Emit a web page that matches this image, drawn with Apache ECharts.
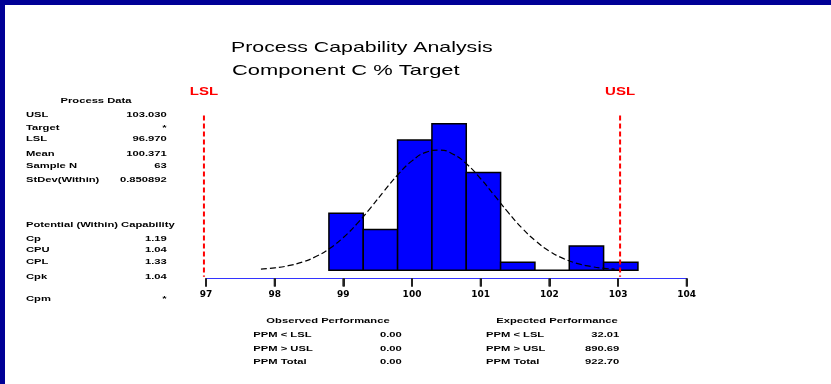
<!DOCTYPE html>
<html><head><meta charset="utf-8">
<script src="https://cdn.jsdelivr.net/npm/echarts@6/dist/echarts.min.js"></script>
<style>html,body{margin:0;padding:0;background:#fff}#c{width:831px;height:384px}</style>
</head><body><div id="c"></div>
<script>
// ---- data ----
const titleLines = ['Process Capability Analysis', 'Component C % Target'];
const axisTicks = [97, 98, 99, 100, 101, 102, 103, 104];
const binLow  = [98.79, 99.29, 99.79, 100.29, 100.79, 101.29, 101.79, 102.29, 102.79];
const binHigh = [99.29, 99.79, 100.29, 100.79, 101.29, 101.79, 102.29, 102.79, 103.29];
const binCounts = [7, 5, 16, 18, 12, 1, 0, 3, 1];
const curveX = [97.8, 98.0, 98.2, 98.4, 98.6, 98.8, 99.0, 99.2, 99.4, 99.6, 99.8, 100.0, 100.2, 100.4, 100.6, 100.8, 101.0, 101.2, 101.4, 101.6, 101.8, 102.0, 102.2, 102.4, 102.6, 102.8, 102.95];
const curveY = [0.15, 0.30, 0.57, 1.01, 1.69, 2.69, 4.03, 5.73, 7.70, 9.80, 11.79, 13.43, 14.48, 14.76, 14.25, 13.01, 11.24, 9.19, 7.11, 5.20, 3.61, 2.36, 1.47, 0.86, 0.48, 0.25, 0.15];
const specValues = [96.97, 103.03];
const specLabels = ['LSL', 'USL'];
const processDataTitle = 'Process Data';
const processDataLabels = ['USL', 'Target', 'LSL', 'Mean', 'Sample N', 'StDev(Within)'];
const processDataValues = ['103.030', '*', '96.970', '100.371', '63', '0.850892'];
const capabilityTitle = 'Potential (Within) Capability';
const capabilityLabels = ['Cp', 'CPU', 'CPL', 'Cpk', 'Cpm'];
const capabilityValues = ['1.19', '1.04', '1.33', '1.04', '*'];
const observedTitle = 'Observed Performance';
const observedLabels = ['PPM < LSL', 'PPM > USL', 'PPM Total'];
const observedValues = ['0.00', '0.00', '0.00'];
const expectedTitle = 'Expected Performance';
const expectedLabels = ['PPM < LSL', 'PPM > USL', 'PPM Total'];
const expectedValues = ['32.01', '890.69', '922.70'];

// ---- chart ----
const chart = echarts.init(document.getElementById('c'), null, {renderer: 'canvas'});
const SMALL = 'bold 8px "Liberation Sans", Arial, sans-serif';
const SX = 1.4;
const Y_MIN = -1, Y_MAX = 19;
function T(text, x, y, align, font, fill, sx) {
  return {type: 'text', x: x, y: y, scaleX: sx || SX, silent: true, z: 10,
    style: {text: text, font: font || SMALL, fill: fill || '#000',
      textAlign: align, textVerticalAlign: 'middle', align: align, verticalAlign: 'middle'}};
}

chart.setOption({
  animation: false,
  backgroundColor: '#ffffff',
  grid: {left: 206, right: 144.3, top: 115.5, bottom: 105.5},
  xAxis: {
    type: 'value', position: 'bottom',
    min: axisTicks[0], max: axisTicks[axisTicks.length - 1], interval: 1,
    splitLine: {show: false},
    axisLine: {show: true, onZero: false, lineStyle: {color: '#3333ff', width: 1}},
    axisTick: {show: true, inside: false, length: 8, lineStyle: {color: '#222', width: 2}},
    axisLabel: {show: true, margin: 12, color: '#000', fontFamily: '"DejaVu Sans", sans-serif', fontWeight: 'bold', fontSize: 9}
  },
  yAxis: {type: 'value', min: Y_MIN, max: Y_MAX, show: false, splitLine: {show: false}},
  series: [
    {
      type: 'custom',
      data: binLow.map((l, i) => [l, binHigh[i], binCounts[i]]),
      encode: {x: [0, 1], y: 2},
      renderItem: function (params, api) {
        const p0 = api.coord([api.value(0), api.value(2)]);
        const p1 = api.coord([api.value(1), 0]);
        return {type: 'rect',
          shape: {x: p0[0], y: p0[1], width: p1[0] - p0[0], height: p1[1] - p0[1]},
          style: {fill: '#0000ff', stroke: '#000', lineWidth: 1.5}};
      }
    },
    {
      type: 'line', smooth: true, showSymbol: false, z: 5,
      data: curveX.map((x, i) => [x, curveY[i]]),
      lineStyle: {color: '#000', width: 1.2, type: [6, 3]}
    },
    {
      type: 'custom', clip: false, z: 6, silent: true,
      data: specValues.map(v => [v]),
      encode: {x: 0},
      renderItem: function (params, api) {
        const top = api.coord([api.value(0), Y_MAX]);
        const bot = api.coord([api.value(0), -0.8]);
        return {type: 'line',
          shape: {x1: top[0], y1: top[1], x2: bot[0], y2: bot[1]},
          style: {stroke: '#ff0000', lineWidth: 2, lineDash: [5, 3]}};
      }
    },
    {
      // axis tick marks at the tick values
      type: 'custom', clip: false, z: 7, silent: true,
      data: axisTicks.map(v => [v]),
      encode: {x: 0},
      renderItem: function (params, api) {
        const p = api.coord([api.value(0), Y_MIN]);
        return {type: 'line',
          shape: {x1: p[0], y1: p[1], x2: p[0], y2: p[1] + 8},
          style: {stroke: '#222', lineWidth: 2}};
      }
    }
  ]
});

const g = [];
g.push({type: 'rect', shape: {x: 0, y: 0, width: 831, height: 5}, style: {fill: '#000096'}, silent: true});
g.push({type: 'rect', shape: {x: 0, y: 0, width: 5, height: 384}, style: {fill: '#000096'}, silent: true});
// titles
g.push(T(titleLines[0], 231, 47.8, 'left', '15px "Liberation Sans", Arial, sans-serif', '#000', 1.42));
g.push(T(titleLines[1], 232, 70.5, 'left', '15px "Liberation Sans", Arial, sans-serif', '#000', 1.46));
// spec labels
specLabels.forEach((s, i) => {
  const px = chart.convertToPixel({xAxisIndex: 0}, specValues[i]);
  g.push(T(s, px, 92, 'center', 'bold 10px "Liberation Sans", Arial, sans-serif', '#ff0000', 1.5));
});
// process data
g.push(T(processDataTitle, 96, 100.7, 'center'));
const pdY = [114.3, 127.3, 139, 154, 166, 180];
processDataLabels.forEach((s, i) => {
  g.push(T(s, 26, pdY[i], 'left'));
  g.push(T(processDataValues[i], 166.7, pdY[i], 'right'));
});
// capability
g.push(T(capabilityTitle, 26, 225, 'left'));
const cY = [238.3, 250, 261.7, 276.7, 298.3];
capabilityLabels.forEach((s, i) => {
  g.push(T(s, 26, cY[i], 'left'));
  g.push(T(capabilityValues[i], 166.7, cY[i], 'right'));
});
// performance tables
const rY = [335, 349, 361.7];
g.push(T(observedTitle, 328, 320.7, 'center'));
observedLabels.forEach((s, i) => {
  g.push(T(s, 253.3, rY[i], 'left'));
  g.push(T(observedValues[i], 401.7, rY[i], 'right'));
});
g.push(T(expectedTitle, 557, 320.7, 'center'));
expectedLabels.forEach((s, i) => {
  g.push(T(s, 486, rY[i], 'left'));
  g.push(T(expectedValues[i], 619.3, rY[i], 'right'));
});
chart.setOption({graphic: g});
</script>
</body></html>
